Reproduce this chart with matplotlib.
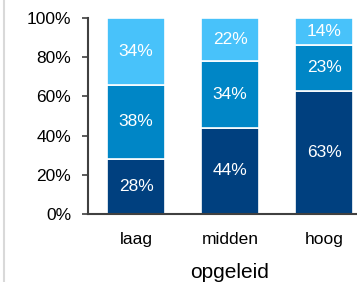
import matplotlib.pyplot as plt
from matplotlib.lines import Line2D

# data
categories = ["laag", "midden", "hoog"]
low_part = [28, 44, 63]
mid_part = [38, 34, 23]
top_part = [34, 22, 14]
colors = ["#00407F", "#0086C6", "#48C2FA"]

plt.rcParams['font.family'] = ['Liberation Sans', 'DejaVu Sans']

fig = plt.figure(figsize=(3.57, 2.82), dpi=100)
ax = fig.add_axes([88 / 357, 68 / 282, 269 / 357, 196 / 282])

x = list(range(len(categories)))
bottom = [0] * len(categories)
for vals, col in zip([low_part, mid_part, top_part], colors):
    bars = ax.bar(x, vals, bottom=bottom, width=0.62, color=col,
                  edgecolor="white", linewidth=1.2)
    for xi, b, v in zip(x, bottom, vals):
        ax.text(xi, b + v / 2, f"{v}%", ha="center", va="center",
                color="white", fontsize=12.5)
    bottom = [b + v for b, v in zip(bottom, vals)]

ax.set_xlim(-0.511, 2.351)
ax.set_ylim(0, 100)
ax.set_yticks([0, 20, 40, 60, 80, 100])
ax.set_yticklabels(["0%", "20%", "40%", "60%", "80%", "100%"], fontsize=12.5)
ax.set_xticks(x)
ax.set_xticklabels(categories, fontsize=12.5)
ax.tick_params(axis="x", length=0, pad=13)
ax.tick_params(axis="y", length=4, width=1.2, color="#404040", pad=8)
for s in ["top", "right"]:
    ax.spines[s].set_visible(False)
for s in ["left", "bottom"]:
    ax.spines[s].set_color("#404040")
    ax.spines[s].set_linewidth(1.5)

fig.text(230 / 357, 1 - 273 / 282, "opgeleid", ha="center", va="center", fontsize=15)
fig.add_artist(Line2D([4 / 357, 4 / 357], [0, 1], color="#d9d9d9", linewidth=1.5))

fig.savefig("out.png", dpi=100)
